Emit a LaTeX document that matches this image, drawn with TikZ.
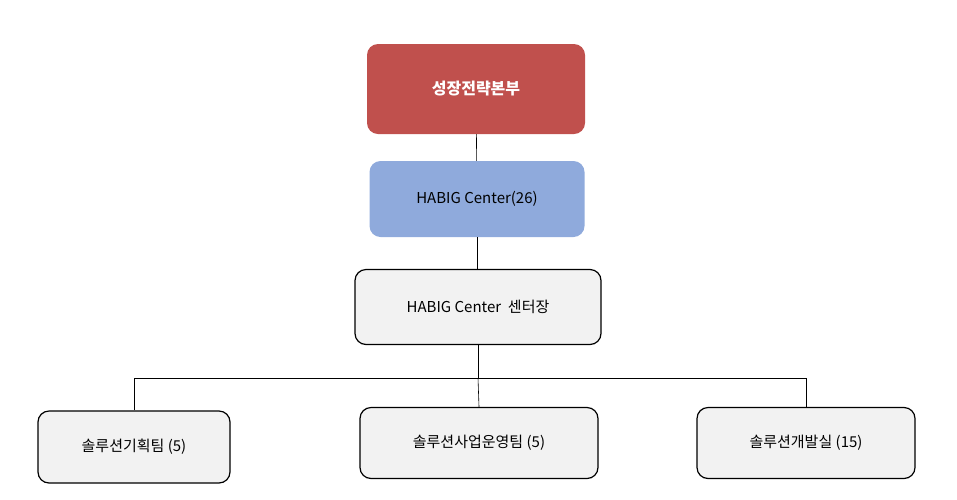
\documentclass[tikz,border=0pt]{standalone}
\usepackage{fontspec}
\setmainfont{Noto Sans CJK KR}
\definecolor{headred}{HTML}{C0504D}
\definecolor{centerblue}{HTML}{8FAADC}
\definecolor{teamgray}{HTML}{F2F2F2}
\tikzset{
  orgbox/.style={rounded corners=11pt, inner sep=0pt, font=\fontsize{15}{18}\selectfont},
  teambox/.style={orgbox, draw=black, line width=1.2pt, fill=teamgray},
  link/.style={draw=black, line width=0.6pt}
}
\begin{document}
\begin{tikzpicture}[x=1pt, y=-1pt]
  \useasboundingbox (0,0) rectangle (957,499);
  \node[orgbox, fill=headred, text=white, font=\fontsize{16}{19}\selectfont\bfseries,
        minimum width=218pt, minimum height=90pt] (hq) at (476,89) {성장전략본부};
  \node[orgbox, fill=centerblue, minimum width=215pt, minimum height=76pt] (center) at (477,199) {HABIG Center(26)};
  \node[teambox, minimum width=246pt, minimum height=75pt] (head) at (478,307) {HABIG Center\ \ 센터장};
  \node[teambox, minimum width=192pt, minimum height=72pt] (plan) at (134,447) {솔루션기획팀 (5)};
  \node[teambox, minimum width=238pt, minimum height=71pt] (ops) at (479,443) {솔루션사업운영팀 (5)};
  \node[teambox, minimum width=218pt, minimum height=71pt] (dev) at (806,443) {솔루션개발실 (15)};
  \coordinate (split) at (478,378);
  \draw[link] (hq) -- (center);
  \draw[link] (center) -- (center |- head.north);
  \draw[link] (head) -- (split);
  \draw[link] (plan.north) -- (plan.north |- split) -- (dev.north |- split) -- (dev.north);
  \draw[link] (split) -- (ops.north);
\end{tikzpicture}
\end{document}
